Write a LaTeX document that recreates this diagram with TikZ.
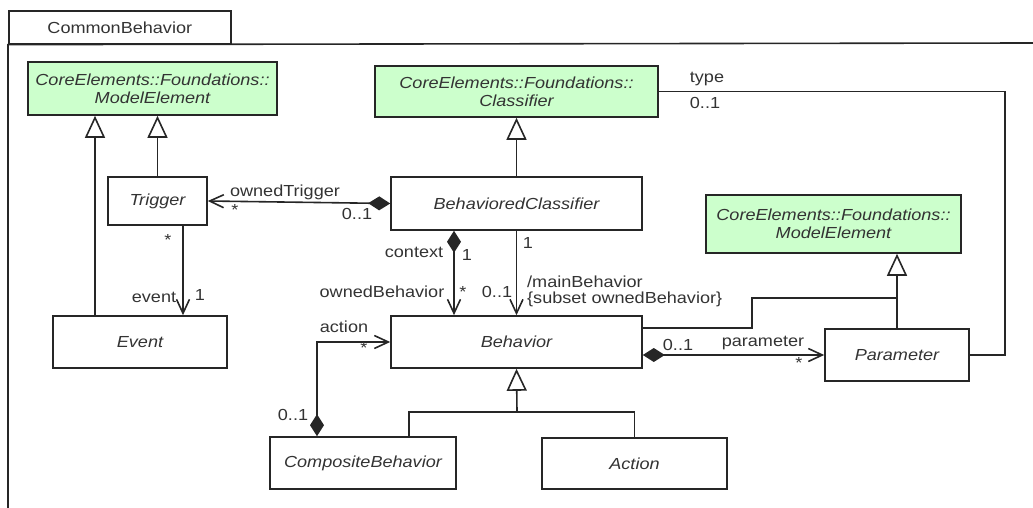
\documentclass[tikz,border=0pt]{standalone}
\usepackage{fontspec}
\setmainfont[FakeStretch=1.13]{Liberation Sans}
\usetikzlibrary{arrows.meta,calc}
\definecolor{umlgreen}{RGB}{204,255,204}
\definecolor{ink}{RGB}{51,51,51}
\definecolor{linec}{RGB}{38,38,38}
\begin{document}
\begin{tikzpicture}[x=1pt,y=-1pt,
  every node/.style={text=ink, font=\fontsize{16}{18}\selectfont},
  cls/.style={draw=linec, line width=1.6pt, fill=white, inner sep=0pt, align=center, font=\fontsize{16}{18}\selectfont\itshape},
  core/.style={cls, fill=umlgreen},
  lbl/.style={inner sep=0pt},
  conn/.style={draw=linec, line width=1.6pt},
  gen/.style={conn, -{Triangle[open, length=22pt, width=20pt, fill=white]}},
  nav/.style={conn, -{Straight Barb[length=14pt, width=13pt]}},
  comp/.style={conn, {Diamond[length=22pt, width=14pt]}-{Straight Barb[length=14pt, width=13pt]}}
]
\useasboundingbox (0,0) rectangle (1033,508);
% package frame
\node[draw=linec, line width=1.6pt, minimum width=222pt, minimum height=33pt, inner sep=0pt, anchor=north west] (tab) at (8,10) {CommonBehavior};
\coordinate (fr) at (1033,43);
\coordinate (fb) at (8,508);
\draw[conn] (fb) -- (tab.south west) -- (fr);
% classes
\node[core, minimum width=249pt, minimum height=53pt] (me1) at (152.5,88.5) {CoreElements::Foundations::\\ModelElement};
\node[cls, minimum width=99pt, minimum height=48pt] (tr) at (157.5,201) {Trigger};
\node[cls, minimum width=174pt, minimum height=52pt] (ev) at (140,342) {Event};
\node[core, minimum width=283pt, minimum height=51pt] (cl) at (516.5,91.5) {CoreElements::Foundations::\\Classifier};
\node[cls, minimum width=251pt, minimum height=53pt] (bc) at (516.5,203.5) {BehavioredClassifier};
\node[cls, minimum width=251pt, minimum height=52pt] (bh) at (516.5,342) {Behavior};
\node[core, minimum width=255pt, minimum height=58pt] (me2) at (833.5,224) {CoreElements::Foundations::\\ModelElement};
\node[cls, minimum width=144pt, minimum height=52pt] (pa) at (897,355) {Parameter};
\node[cls, minimum width=186pt, minimum height=52pt] (cb) at (363,463) {CompositeBehavior};
\node[cls, minimum width=185pt, minimum height=51pt] (ac) at (634.5,463.5) {Action};
% helper coordinates
\coordinate (c95) at (95,0);
\coordinate (c183) at (183,0);
\coordinate (c454) at (454,0);
\coordinate (c317) at (317,0);
\coordinate (c409) at (409,0);
\coordinate (j) at (517,412);
\coordinate (k) at (752,298);
\coordinate (c1005) at (1005,0);
% generalizations
\draw[gen] (ev.north -| c95) -- (me1.south -| c95);
\draw[gen] (tr.north) -- (tr.north |- me1.south);
\draw[gen] (bc.north) -- (cl.south);
\draw[conn] (cb.north -| c409) |- (j) -| (ac.north);
\draw[gen] (j) -- (bh.south);
\draw[conn] (bh.east |- pa.north) -| (k) -- (k -| pa.north);
\draw[gen] (pa.north) -- (pa.north |- me2.south);
% associations
\draw[nav] (tr.south -| c183) -- (ev.north -| c183);
\draw[comp] (bc.west) -- (tr.east);
\draw[comp] (bc.south -| c454) -- (bh.north -| c454);
\draw[nav] (bc.south) -- (bh.north);
\draw[comp] (cb.north -| c317) |- (bh.west);
\draw[comp] (bh.east |- pa.west) -- (pa.west);
\draw[conn] (pa.east) -| (c1005 |- cl.east) -- (cl.east);
% labels
\node[lbl] (l1) at (168,240) {*};
\node[lbl] (l2) at (154,297) {event};
\node[lbl] (l3) at (200,295) {1};
\node[lbl] (l4) at (285,192) {ownedTrigger};
\node[lbl] (l5) at (235,210) {*};
\node[lbl] (l6) at (357,214) {0..1};
\node[lbl] (l7) at (414,252) {context};
\node[lbl] (l8) at (467,255) {1};
\node[lbl] (l9) at (382,292) {ownedBehavior};
\node[lbl] (l10) at (463,292) {*};
\node[lbl] (l11) at (528,243) {1};
\node[lbl] (l12) at (497,292) {0..1};
\node[lbl, anchor=west] (l13) at (527,282) {/mainBehavior};
\node[lbl, anchor=west] (l14) at (527,299) {\{subset ownedBehavior\}};
\node[lbl] (l15) at (344,327) {action};
\node[lbl] (l16) at (364,348) {*};
\node[lbl] (l17) at (293,415) {0..1};
\node[lbl] (l18) at (678,345) {0..1};
\node[lbl] (l19) at (763,343) {parameter};
\node[lbl] (l20) at (799,363) {*};
\node[lbl] (l21) at (707,79) {type};
\node[lbl] (l22) at (705,103) {0..1};
\end{tikzpicture}
\end{document}
